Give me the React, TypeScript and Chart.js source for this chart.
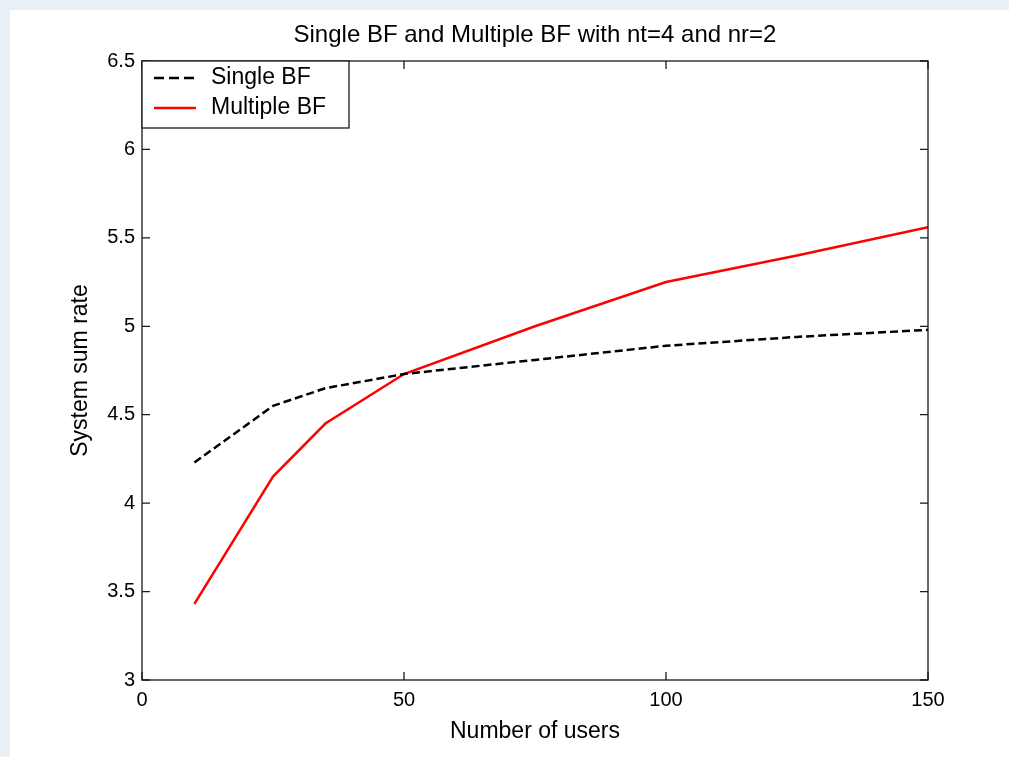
import React, { useEffect, useRef } from 'react';
import { Chart, registerables } from 'chart.js';

Chart.register(...registerables);

const titleText = 'Single BF and Multiple BF with nt=4 and nr=2';
const xTitle = 'Number of users';
const yTitle = 'System sum rate';
const users = [10, 25, 35, 50, 75, 100, 125, 150];
const singleBF = [4.23, 4.55, 4.65, 4.73, 4.81, 4.89, 4.94, 4.98];
const multipleBF = [3.43, 4.15, 4.45, 4.73, 5.0, 5.25, 5.4, 5.56];
const seriesLabels = ['Single BF', 'Multiple BF'];
const xTicks = [0, 50, 100, 150];
const yTicks = [3, 3.5, 4, 4.5, 5, 5.5, 6, 6.5];

const FONT = '"Liberation Sans", Arial, Helvetica, sans-serif';

const framePlugin = {
  id: 'matlabFrame',
  beforeDraw(chart: any) {
    const { ctx, width, height } = chart;
    ctx.save();
    ctx.fillStyle = '#e8f0f6';
    ctx.fillRect(0, 0, width, height);
    ctx.fillStyle = '#ffffff';
    ctx.fillRect(10, 10, width - 10, height - 10);
    ctx.restore();
  },
  afterDraw(chart: any) {
    const { ctx, chartArea: a, scales } = chart;
    const tl = 8;
    ctx.save();
    // title centred over the axes
    ctx.fillStyle = '#000';
    ctx.font = `24px ${FONT}`;
    ctx.textAlign = 'center';
    ctx.textBaseline = 'middle';
    ctx.fillText(titleText, (a.left + a.right) / 2, 35);

    ctx.strokeStyle = '#1a1a1a';
    ctx.lineWidth = 1.3;
    ctx.setLineDash([]);
    ctx.strokeRect(a.left, a.top, a.right - a.left, a.bottom - a.top);
    ctx.beginPath();
    xTicks.forEach((v) => {
      const px = scales.x.getPixelForValue(v);
      ctx.moveTo(px, a.bottom);
      ctx.lineTo(px, a.bottom - tl);
      ctx.moveTo(px, a.top);
      ctx.lineTo(px, a.top + tl);
    });
    yTicks.forEach((v) => {
      const py = scales.y.getPixelForValue(v);
      ctx.moveTo(a.left, py);
      ctx.lineTo(a.left + tl, py);
      ctx.moveTo(a.right, py);
      ctx.lineTo(a.right - tl, py);
    });
    ctx.stroke();

    // legend box
    const lx = a.left;
    const ly = a.top;
    const lw = 207;
    const lh = 67;
    ctx.fillStyle = '#ffffff';
    ctx.fillRect(lx, ly, lw, lh);
    ctx.strokeRect(lx, ly, lw, lh);
    const rows = [78, 108];
    chart.data.datasets.forEach((ds: any, i: number) => {
      const y = rows[i];
      ctx.beginPath();
      ctx.strokeStyle = ds.borderColor;
      ctx.lineWidth = 2.5;
      ctx.setLineDash(ds.borderDash && ds.borderDash.length ? [10, 5] : []);
      ctx.moveTo(lx + 12, y);
      ctx.lineTo(lx + 54, y);
      ctx.stroke();
      ctx.setLineDash([]);
      ctx.fillStyle = '#000';
      ctx.font = `23px ${FONT}`;
      ctx.textAlign = 'left';
      ctx.textBaseline = 'middle';
      ctx.fillText(ds.label, lx + 69, y);
    });
    ctx.restore();
  },
};

export default function App() {
  const ref = useRef<HTMLCanvasElement | null>(null);

  useEffect(() => {
    document.body.style.margin = '0';
    document.body.style.overflow = 'hidden';
    const canvas = ref.current;
    if (!canvas) return;
    const chart = new Chart(canvas, {
      type: 'line',
      data: {
        datasets: [
          {
            label: seriesLabels[0],
            data: users.map((u, i) => ({ x: u, y: singleBF[i] })),
            borderColor: '#000000',
            borderWidth: 2.5,
            borderDash: [8, 4],
            pointRadius: 0,
            tension: 0,
            fill: false,
          },
          {
            label: seriesLabels[1],
            data: users.map((u, i) => ({ x: u, y: multipleBF[i] })),
            borderColor: '#ff0000',
            borderWidth: 2.5,
            pointRadius: 0,
            tension: 0,
            fill: false,
          },
        ],
      },
      options: {
        animation: false,
        responsive: false,
        devicePixelRatio: 1,
        layout: { padding: { left: 0, right: 81, top: 61, bottom: 0 } },
        plugins: {
          legend: { display: false },
          tooltip: { enabled: false },
          title: { display: false },
        },
        scales: {
          x: {
            type: 'linear',
            min: 0,
            max: 150,
            afterBuildTicks: (s: any) => {
              s.ticks = xTicks.map((v) => ({ value: v }));
            },
            grid: { display: false, drawTicks: false },
            border: { display: false },
            ticks: {
              padding: 8,
              color: '#000',
              font: { family: FONT, size: 20 },
              callback: (v: any) => String(v),
            },
            title: {
              display: true,
              text: xTitle,
              color: '#000',
              font: { family: FONT, size: 23, lineHeight: 1.2 },
              padding: { top: 0, bottom: 12 },
            },
            afterFit: (s: any) => {
              s.height = 77;
            },
          },
          y: {
            type: 'linear',
            min: 3,
            max: 6.5,
            afterBuildTicks: (s: any) => {
              s.ticks = yTicks.map((v) => ({ value: v }));
            },
            grid: { display: false, drawTicks: false },
            border: { display: false },
            ticks: {
              padding: 7,
              color: '#000',
              font: { family: FONT, size: 20 },
              callback: (v: any) => String(v),
            },
            title: {
              display: true,
              text: yTitle,
              color: '#000',
              font: { family: FONT, size: 23, lineHeight: 1.2 },
              padding: { top: 67, bottom: 0 },
            },
            afterFit: (s: any) => {
              s.width = 142;
            },
          },
        },
      },
      plugins: [framePlugin],
    } as any);
    return () => chart.destroy();
  }, []);

  return (
    <div style={{ width: 1009, height: 757 }}>
      <canvas ref={ref} width={1009} height={757} style={{ display: 'block' }} />
    </div>
  );
}
